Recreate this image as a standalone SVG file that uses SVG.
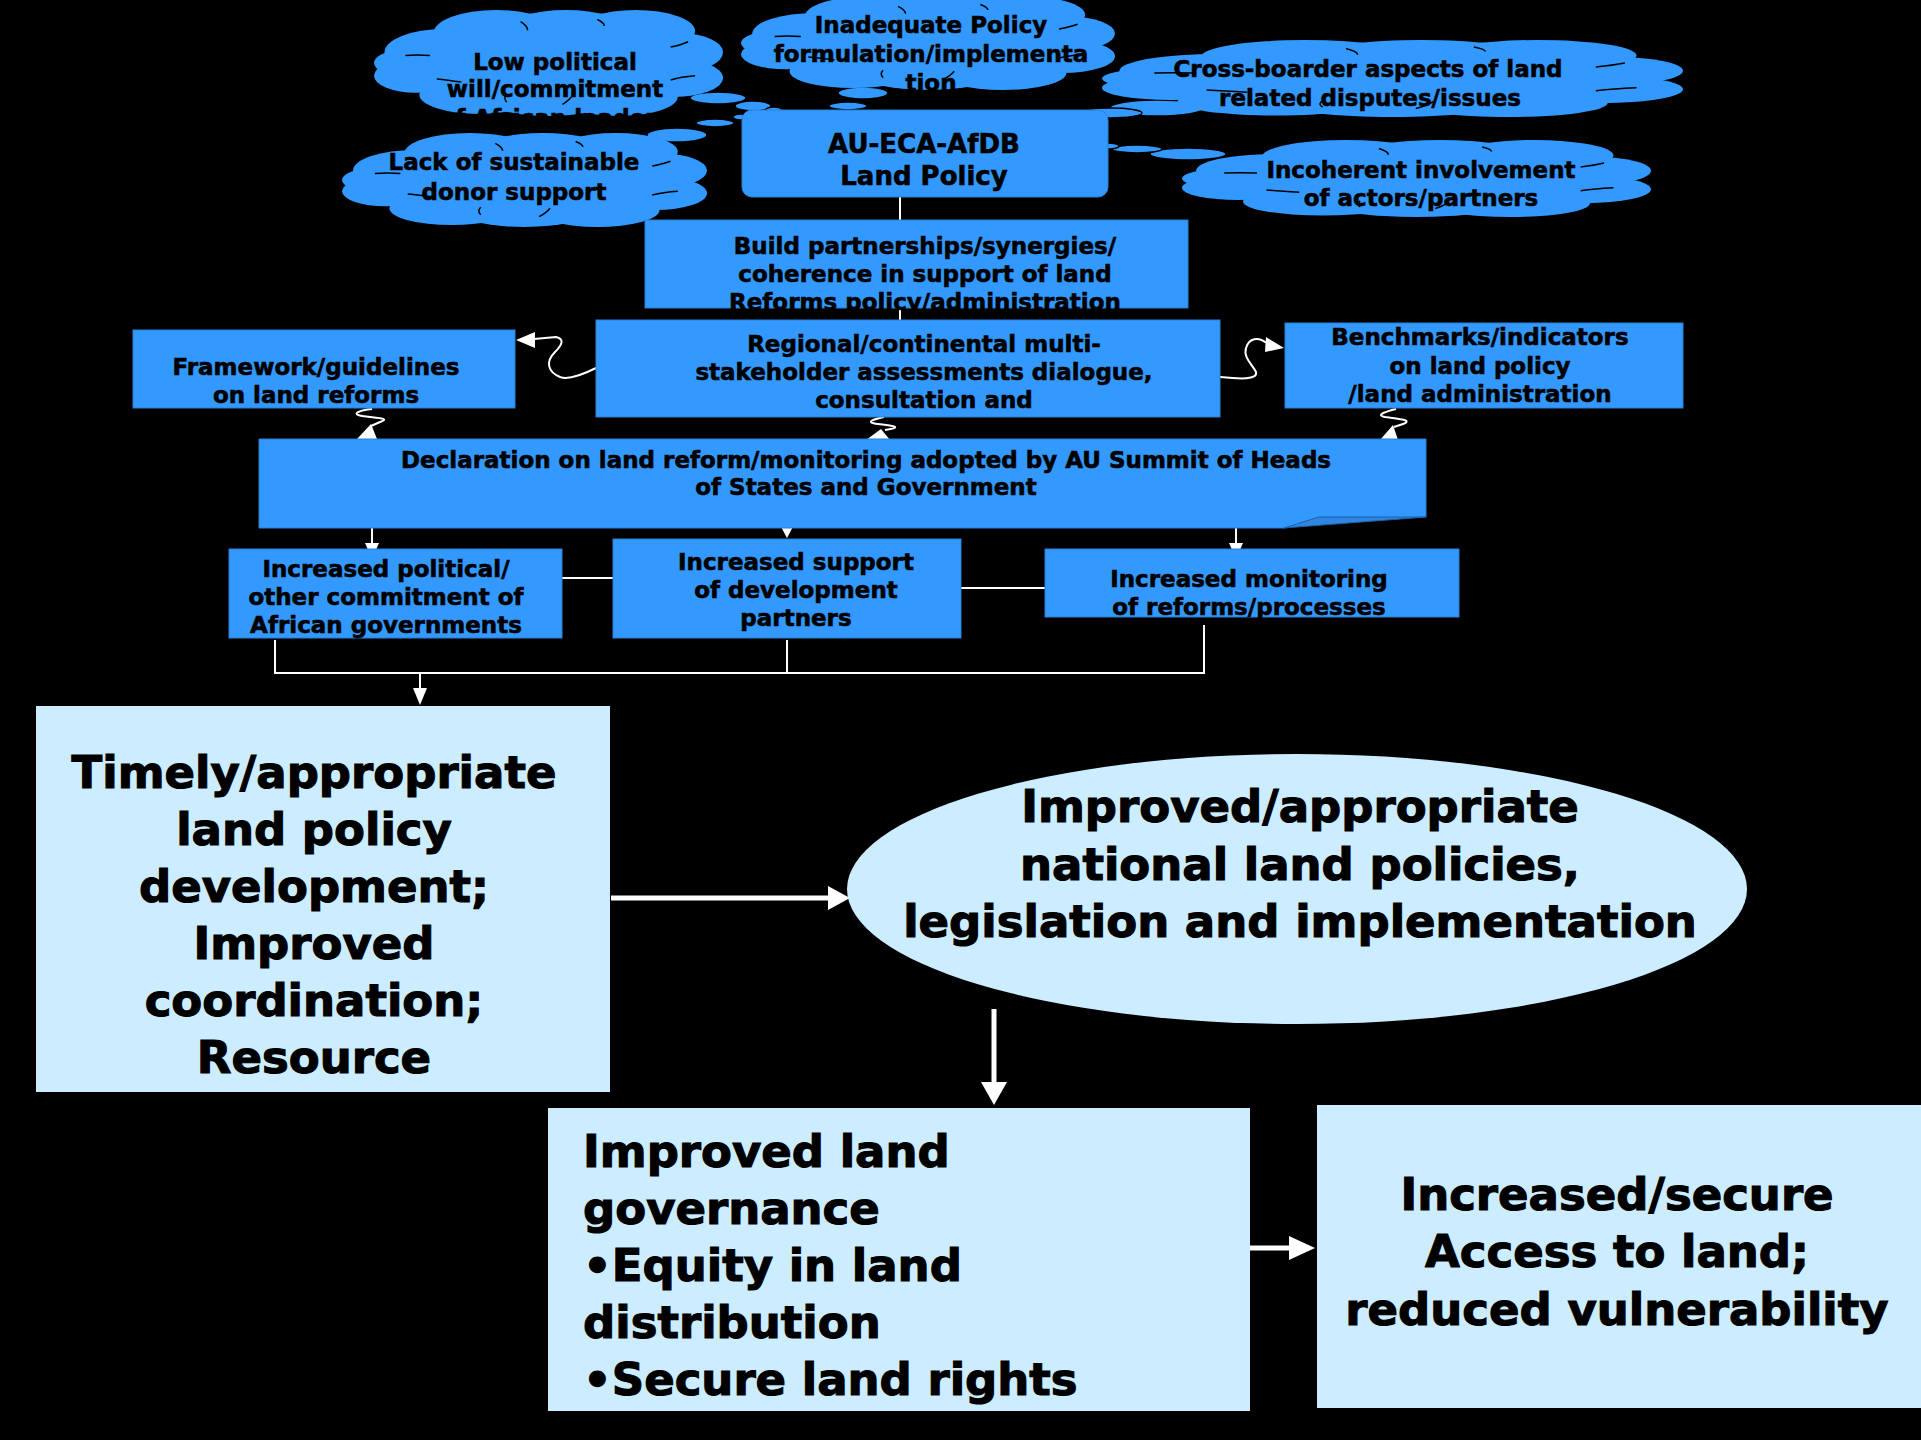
<svg xmlns="http://www.w3.org/2000/svg" xmlns:xlink="http://www.w3.org/1999/xlink" width="1921" height="1440" viewBox="0 0 1921 1440">
<style>
.blue{fill:#3399FF;stroke:#2a80d8;stroke-width:1}
.lb{fill:#CCECFF}
.t{font-family:"DejaVu Sans",Verdana,sans-serif;font-weight:bold;fill:#000;text-anchor:middle;stroke:#000;stroke-width:0.6}
.s{font-size:23px}
.m{font-size:26px}
.b{font-size:45px;stroke-width:1.1}
.st{text-anchor:start}
.conn{stroke:#fff;fill:none;stroke-width:2}
.thick{stroke:#fff;fill:none;stroke-width:5}
.ah{fill:#fff;stroke:none}
.bub{fill:#3399FF;stroke:#000;stroke-width:1.5}
</style>
<defs>
<symbol id="cloud" viewBox="0 0 100 100" preserveAspectRatio="none">
<g fill="#3399FF">
<ellipse cx="50" cy="52" rx="38" ry="34"/>
<ellipse cx="20" cy="40" rx="17" ry="22"/>
<ellipse cx="35" cy="22" rx="18" ry="22"/>
<ellipse cx="55" cy="18" rx="17" ry="18"/>
<ellipse cx="75" cy="20" rx="17" ry="20"/>
<ellipse cx="88" cy="40" rx="12" ry="18"/>
<ellipse cx="86" cy="64" rx="14" ry="18"/>
<ellipse cx="70" cy="82" rx="17" ry="18"/>
<ellipse cx="50" cy="84" rx="18" ry="16"/>
<ellipse cx="30" cy="80" rx="17" ry="18"/>
<ellipse cx="12" cy="62" rx="12" ry="16"/>
<ellipse cx="8" cy="50" rx="8" ry="12"/>
</g>
<g fill="none" stroke="#000" stroke-width="1.5">
<path vector-effect="non-scaling-stroke" d="M 9 43 Q 12 42 16 43"/>
<path vector-effect="non-scaling-stroke" d="M 42 11 Q 44 15 44 19"/>
<path vector-effect="non-scaling-stroke" d="M 64 9 Q 66 12 66 15"/>
<path vector-effect="non-scaling-stroke" d="M 90 30 Q 88 33 85 35"/>
<path vector-effect="non-scaling-stroke" d="M 85 66 Q 88 63 92 62"/>
<path vector-effect="non-scaling-stroke" d="M 57 80 Q 56 85 54 89"/>
<path vector-effect="non-scaling-stroke" d="M 38 79 Q 37 83 38 87"/>
<path vector-effect="non-scaling-stroke" d="M 18 65 Q 21 66 25 68"/>
</g>
</symbol>
</defs>
<rect x="0" y="0" width="1921" height="1440" fill="#000"/>

<g id="bubbles">
<ellipse class="bub" cx="718" cy="98" rx="28" ry="6"/>
<ellipse class="bub" cx="753" cy="106" rx="18" ry="5"/>
<ellipse class="bub" cx="774" cy="110" rx="8" ry="3"/>
<ellipse class="bub" cx="677" cy="135" rx="30" ry="7"/>
<ellipse class="bub" cx="715" cy="123" rx="19" ry="4"/>
<ellipse class="bub" cx="741" cy="117" rx="8" ry="3"/>
<ellipse class="bub" cx="863" cy="93" rx="25" ry="6"/>
<ellipse class="bub" cx="848" cy="106" rx="19" ry="4"/>
<ellipse class="bub" cx="840" cy="113" rx="10" ry="3"/>
<ellipse class="bub" cx="1157" cy="108" rx="47" ry="8"/>
<ellipse class="bub" cx="1110" cy="113" rx="32" ry="5"/>
<ellipse class="bub" cx="1088" cy="117" rx="16" ry="3"/>
<ellipse class="bub" cx="1188" cy="154" rx="38" ry="6"/>
<ellipse class="bub" cx="1137" cy="149" rx="25" ry="4"/>
<ellipse class="bub" cx="1107" cy="146" rx="12" ry="3"/>
</g>

<g id="cloud-low-political">
<use xlink:href="#cloud" x="374" y="10" width="349" height="106"/>
<text class="t s" x="555" y="70">Low political</text>
<text class="t s" x="555" y="97">will/commitment</text>
<text class="t s" x="555" y="126">of African leaders</text>
</g>
<g id="cloud-inadequate">
<use xlink:href="#cloud" x="741" y="-4" width="374" height="94"/>
<text class="t s" x="931" y="33">Inadequate Policy</text>
<text class="t s" x="931" y="62">formulation/implementa</text>
<text class="t s" x="931" y="91">tion</text>
</g>
<g id="cloud-cross-boarder">
<use xlink:href="#cloud" x="1102" y="40" width="581" height="77"/>
<text class="t s" x="1368" y="77">Cross-boarder aspects of land</text>
<text class="t s" x="1370" y="106">related disputes/issues</text>
</g>
<g id="cloud-lack">
<use xlink:href="#cloud" x="342" y="133" width="365" height="94"/>
<text class="t s" x="514" y="170">Lack of sustainable</text>
<text class="t s" x="514" y="200">donor support</text>
</g>
<g id="cloud-incoherent">
<use xlink:href="#cloud" x="1182" y="140" width="469" height="77"/>
<text class="t s" x="1421" y="178">Incoherent involvement</text>
<text class="t s" x="1421" y="206">of actors/partners</text>
</g>

<g id="connectors">
<line class="conn" x1="900" y1="197" x2="900" y2="221"/>
<line class="conn" x1="900" y1="308" x2="900" y2="321"/>
<path class="conn" d="M 596 368 C 580 376 568 380 560 377 C 548 372 545 362 555 352 C 562 345 565 339 556 337 L 534 339"/>
<polygon class="ah" points="516,340 535,332 535,348"/>
<path class="conn" d="M 1220 377 C 1240 379 1258 380 1256 372 C 1253 365 1243 358 1246 348 C 1249 338 1258 336 1268 344"/>
<polygon class="ah" points="1284,348 1266,337 1265,352"/>
<path class="conn" d="M 372 409 C 360 410 350 414 362 416 C 375 418 392 418 380 422 L 371 426"/>
<polygon class="ah" points="371,424 357,439 377,439"/>
<path class="conn" d="M 884 417 C 875 419 863 422 878 424 C 895 426 903 427 885 430"/>
<polygon class="ah" points="881,429 866,440 890,440"/>
<path class="conn" d="M 1396 409 C 1388 411 1374 415 1385 417 C 1400 419 1416 420 1400 425 L 1394 427"/>
<polygon class="ah" points="1393,425 1380,440 1398,440"/>
<line class="conn" x1="372" y1="528" x2="372" y2="546"/>
<polygon class="ah" points="365,543 379,543 372,559"/>
<polygon class="ah" points="779,523 795,523 787,538"/>
<line class="conn" x1="1236" y1="528" x2="1236" y2="546"/>
<polygon class="ah" points="1229,543 1243,543 1236,559"/>
<line class="conn" x1="562" y1="578" x2="627" y2="578"/>
<line class="conn" x1="961" y1="588" x2="1045" y2="588"/>
<polyline class="conn" points="275,640 275,673 1204,673 1204,625"/>
<line class="conn" x1="787" y1="640" x2="787" y2="673"/>
<line class="conn" x1="420" y1="673" x2="420" y2="690"/>
<polygon class="ah" points="413,688 427,688 420,705"/>
<line class="thick" x1="611" y1="898" x2="832" y2="898"/>
<polygon class="ah" points="828,886 828,910 850,898"/>
<line class="thick" x1="994" y1="1009" x2="994" y2="1086"/>
<polygon class="ah" points="981,1082 1007,1082 994,1105"/>
<line class="thick" x1="1250" y1="1248" x2="1294" y2="1248" stroke-width="6"/>
<polygon class="ah" points="1289,1236 1289,1260 1315,1248"/>
</g>

<g id="node-au">
<rect class="blue" x="742" y="110" width="366" height="87" rx="10"/>
<text class="t m" x="924" y="153">AU-ECA-AfDB</text>
<text class="t m" x="924" y="185">Land Policy</text>
</g>
<g id="node-build">
<rect class="blue" x="645" y="220" width="543" height="88"/>
<text class="t s" x="925" y="254">Build partnerships/synergies/</text>
<text class="t s" x="925" y="282">coherence in support of land</text>
<text class="t s" x="925" y="310">Reforms policy/administration</text>
</g>
<g id="node-regional">
<rect class="blue" x="596" y="320" width="624" height="97"/>
<text class="t s" x="924" y="352">Regional/continental multi-</text>
<text class="t s" x="924" y="380">stakeholder assessments dialogue,</text>
<text class="t s" x="924" y="408">consultation and</text>
</g>
<g id="node-framework">
<rect class="blue" x="133" y="330" width="382" height="78"/>
<text class="t s" x="316" y="375">Framework/guidelines</text>
<text class="t s" x="316" y="403">on land reforms</text>
</g>
<g id="node-benchmarks">
<rect class="blue" x="1285" y="323" width="398" height="85"/>
<text class="t s" x="1480" y="345">Benchmarks/indicators</text>
<text class="t s" x="1480" y="374">on land policy</text>
<text class="t s" x="1480" y="402">/land administration</text>
</g>
<g id="node-declaration">
<polygon class="blue" points="259,439 1426,439 1426,517 1319,519 1284,528 259,528"/>
<polygon points="1284,528 1319,517 1426,517" fill="#2f86e0" stroke="#1a5fa8" stroke-width="1"/>
<text class="t s" x="866" y="468">Declaration on land reform/monitoring adopted by AU Summit of Heads</text>
<text class="t s" x="866" y="495">of States and Government</text>
</g>
<g id="node-political">
<rect class="blue" x="229" y="549" width="333" height="89"/>
<text class="t s" x="386" y="577">Increased political/</text>
<text class="t s" x="386" y="605">other commitment of</text>
<text class="t s" x="386" y="633">African governments</text>
</g>
<g id="node-support">
<rect class="blue" x="613" y="539" width="348" height="99"/>
<text class="t s" x="796" y="570">Increased support</text>
<text class="t s" x="796" y="598">of development</text>
<text class="t s" x="796" y="626">partners</text>
</g>
<g id="node-monitoring">
<rect class="blue" x="1045" y="549" width="414" height="68"/>
<text class="t s" x="1249" y="587">Increased monitoring</text>
<text class="t s" x="1249" y="615">of reforms/processes</text>
</g>
<g id="node-timely">
<rect class="lb" x="36" y="706" width="574" height="386"/>
<text class="t b" x="314" y="788">Timely/appropriate</text>
<text class="t b" x="314" y="845">land policy</text>
<text class="t b" x="314" y="902">development;</text>
<text class="t b" x="314" y="959">Improved</text>
<text class="t b" x="314" y="1016">coordination;</text>
<text class="t b" x="314" y="1073">Resource</text>
</g>
<g id="node-improved-policies">
<ellipse class="lb" cx="1297" cy="889" rx="450" ry="135"/>
<text class="t b" x="1300" y="822">Improved/appropriate</text>
<text class="t b" x="1300" y="880">national land policies,</text>
<text class="t b" x="1300" y="937">legislation and implementation</text>
</g>
<g id="node-governance">
<rect class="lb" x="548" y="1108" width="702" height="303"/>
<text class="t b st" x="583" y="1167">Improved land</text>
<text class="t b st" x="583" y="1224">governance</text>
<text class="t b st" x="583" y="1281">•Equity in land</text>
<text class="t b st" x="583" y="1338">distribution</text>
<text class="t b st" x="583" y="1395">•Secure land rights</text>
</g>
<g id="node-access">
<rect class="lb" x="1317" y="1105" width="610" height="303"/>
<text class="t b" x="1617" y="1210">Increased/secure</text>
<text class="t b" x="1617" y="1267">Access to land;</text>
<text class="t b" x="1617" y="1325">reduced vulnerability</text>
</g>
</svg>
